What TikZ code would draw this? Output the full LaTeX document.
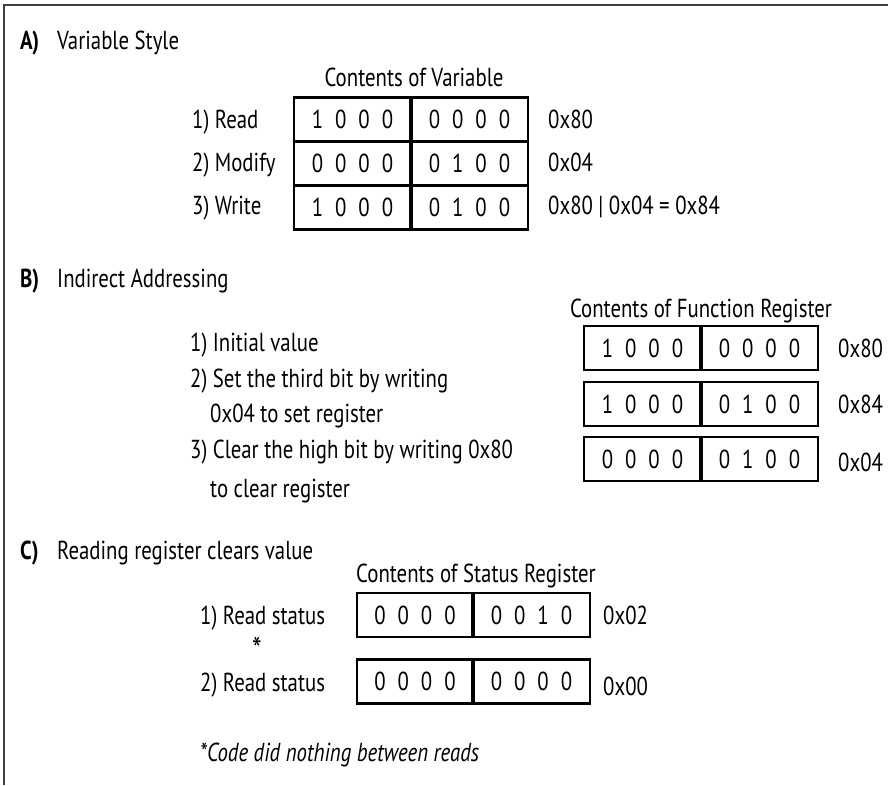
\documentclass[tikz,border=0pt]{standalone}
\usepackage{fontspec}
\setmainfont{PT Sans}[FakeStretch=0.8]
\usepackage{tikz}
\usetikzlibrary{positioning}
\newcommand{\txtfont}{\fontsize{26}{30}\selectfont}
\newcommand{\nib}[4]{#1\hspace{12pt}#2\hspace{12pt}#3\hspace{12pt}#4}
\tikzset{
  bitcell/.style={rectangle, draw=black, line width=2.8pt, minimum width=117pt, minimum height=44pt, inner sep=0pt, outer sep=0pt, font=\txtfont},
  divider/.style={line width=4pt},
  steplbl/.style={anchor=west, inner sep=0pt, text height=18pt, text depth=0pt, font=\txtfont},
  hexlbl/.style={anchor=west, inner sep=0pt, text height=18pt, text depth=0pt, font=\txtfont},
  regtitle/.style={inner sep=0pt, text height=18pt, text depth=0pt, font=\txtfont},
  sechead/.style={anchor=west, inner sep=0pt, text height=18pt, text depth=0pt, font=\txtfont},
  sectag/.style={sechead, font=\txtfont\bfseries},
  edgeline/.style={draw=black!75, line width=1.2pt},
}
\begin{document}
\begin{tikzpicture}[x=1pt, y=-1pt, node distance=0pt]
\useasboundingbox (0,0) rectangle (888,785);
\draw[edgeline] (4,785) -- (4,5) -- (888,5);

% A) variable style
\node[sectag] (secA) at (20,40) {A)};
\node[sechead] (secAtxt) at (57,40) {Variable Style};
\node[regtitle] (capA) at (414,77) {Contents of Variable};
\node[bitcell] (a1hi) at (352.5,119.5) {\nib1000};
\node[bitcell, right=of a1hi] (a1lo) {\nib0000};
\node[bitcell, below=of a1hi] (a2hi) {\nib0000};
\node[bitcell, right=of a2hi] (a2lo) {\nib0100};
\node[bitcell, below=of a2hi] (a3hi) {\nib1000};
\node[bitcell, right=of a3hi] (a3lo) {\nib0100};
\draw[divider] (a1hi.north east) -- (a3hi.south east);
\node[steplbl] (a1) at (192,119.5) {1) Read};
\node[steplbl] (a2) at (192,162.5) {2) Modify};
\node[steplbl] (a3) at (192,205.5) {3) Write};
\node[hexlbl] (a1x) at (548,119.5) {0x80};
\node[hexlbl] (a2x) at (548,162.5) {0x04};
\node[hexlbl] (a3x) at (548,205.5) {0x80 | 0x04 = 0x84};

% B) indirect addressing
\node[sectag] (secB) at (20,278) {B)};
\node[sechead] (secBtxt) at (57,278) {Indirect Addressing};
\node[regtitle] (capB) at (701,308) {Contents of Function Register};
\node[bitcell] (b1hi) at (642.5,348) {\nib1000};
\node[bitcell, right=of b1hi] (b1lo) {\nib0000};
\node[bitcell] (b2hi) at (642.5,404) {\nib1000};
\node[bitcell, right=of b2hi] (b2lo) {\nib0100};
\node[bitcell] (b3hi) at (642.5,459) {\nib0000};
\node[bitcell, right=of b3hi] (b3lo) {\nib0100};
\foreach \r in {1,2,3}
  \draw[divider] (b\r hi.north east) -- (b\r hi.south east);
\node[steplbl] (b1) at (190,342) {1) Initial value};
\node[steplbl] (b2) at (190,378) {2) Set the third bit by writing};
\node[steplbl] (b2b) at (210,413) {0x04 to set register};
\node[steplbl] (b3) at (190,449) {3) Clear the high bit by writing 0x80};
\node[steplbl] (b3b) at (210,488) {to clear register};
\node[hexlbl] (b1x) at (838,348) {0x80};
\node[hexlbl] (b2x) at (838,404) {0x84};
\node[hexlbl] (b3x) at (838,462) {0x04};

% C) reading register clears value
\node[sectag] (secC) at (20,550) {C)};
\node[sechead] (secCtxt) at (57,550) {Reading register clears value};
\node[regtitle] (capC) at (476,573) {Contents of Status Register};
\node[bitcell, minimum width=116pt] (c1hi) at (415,615) {\nib0000};
\node[bitcell, right=of c1hi] (c1lo) {\nib0010};
\node[bitcell, minimum width=116pt] (c2hi) at (415,681.5) {\nib0000};
\node[bitcell, right=of c2hi] (c2lo) {\nib0000};
\foreach \r in {1,2}
  \draw[divider] (c\r hi.north east) -- (c\r hi.south east);
\node[steplbl] (c1) at (200,615) {1) Read status};
\node[regtitle, font=\fontsize{34}{34}\selectfont] (cstar) at (257,652) {*};
\node[steplbl] (c2) at (200,682) {2) Read status};
\node[hexlbl] (c1x) at (603,615) {0x02};
\node[hexlbl] (c2x) at (603,686) {0x00};
\node[steplbl, font=\txtfont\itshape] (cnote) at (200,752) {*Code did nothing between reads};
\end{tikzpicture}
\end{document}
